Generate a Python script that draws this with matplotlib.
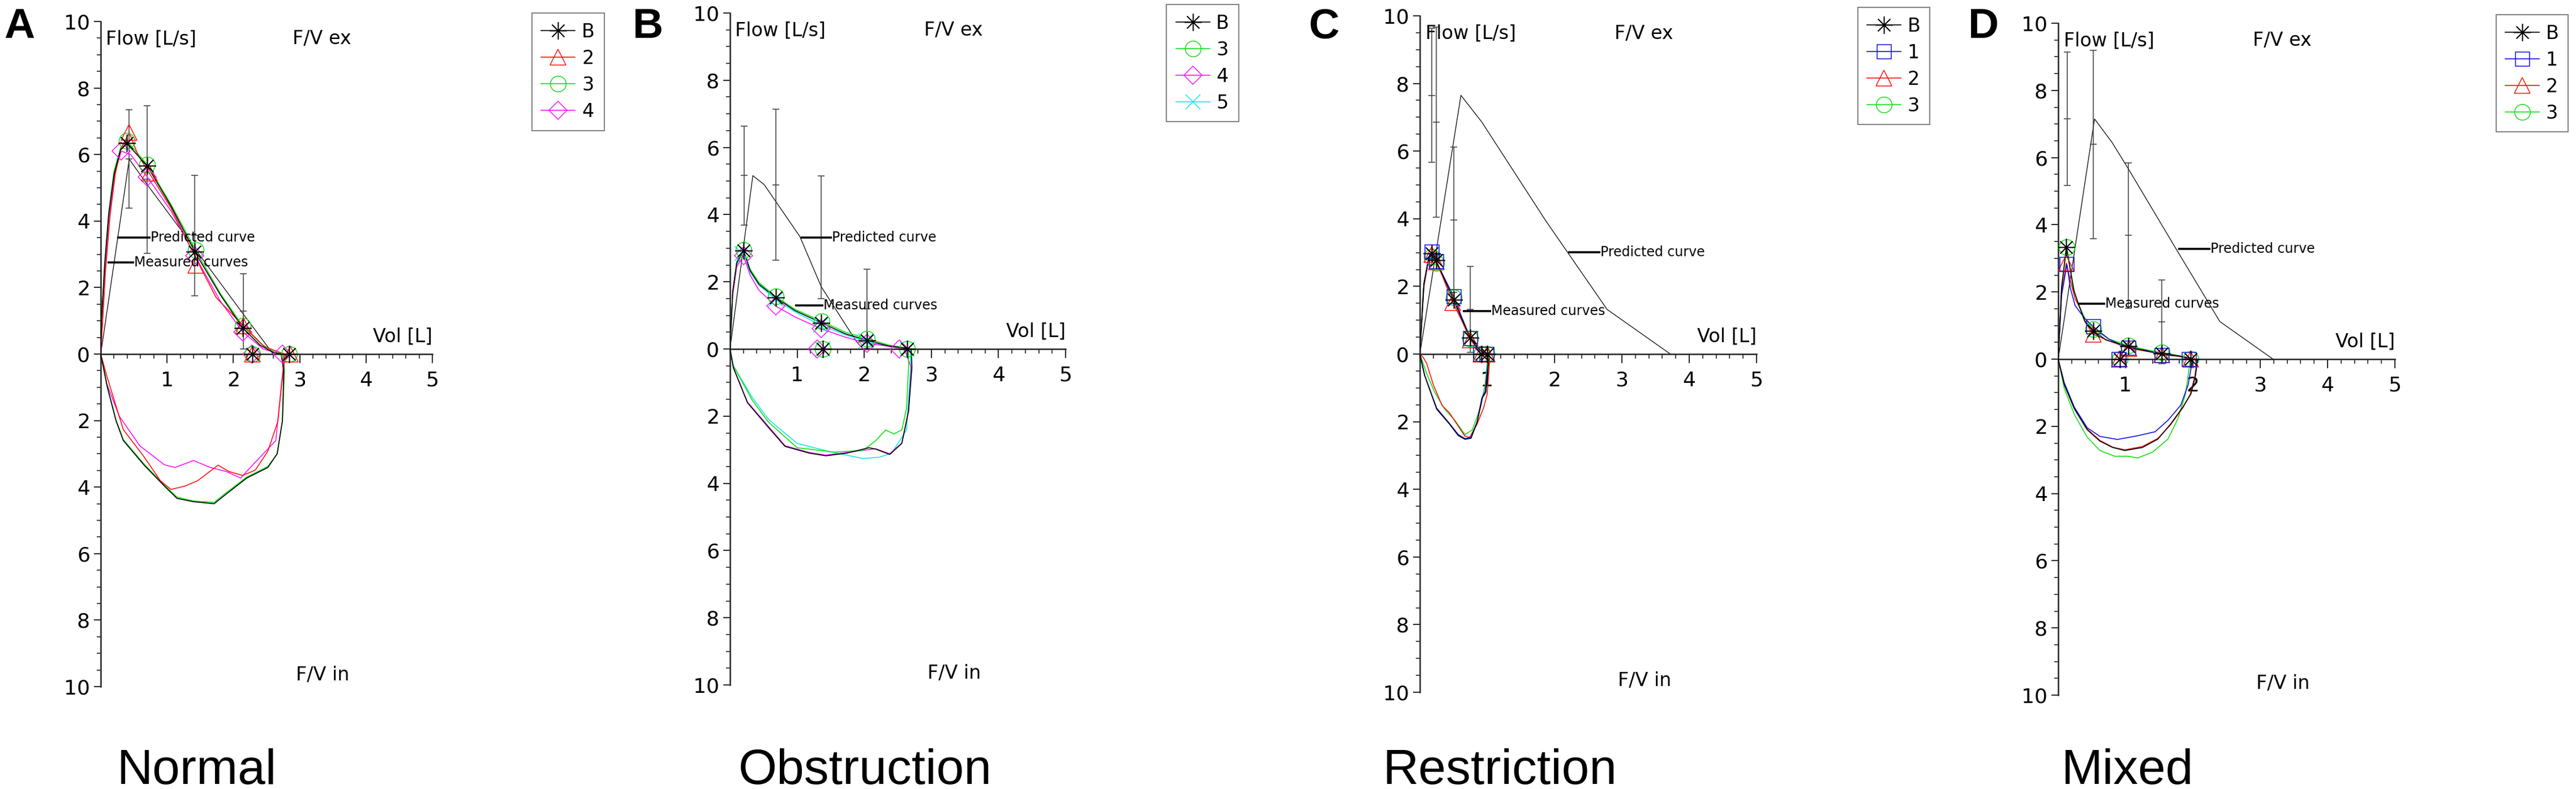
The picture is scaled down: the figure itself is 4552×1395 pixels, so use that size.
import matplotlib
matplotlib.use("Agg")
import matplotlib.pyplot as plt
from matplotlib.lines import Line2D
from matplotlib.ticker import FixedLocator, MultipleLocator, FuncFormatter

# ---- values (volume in L, flow in L/s) ----
# inspiratory flows are stored as magnitudes, drawn below the axis

# A - Normal
normal_series = ["B", "2", "3", "4"]
normal_exp = {
    "B": ([0, 0.01, 0.06, 0.12, 0.20, 0.30, 0.39, 0.70, 1.06, 1.42, 1.81, 2.14, 2.40, 2.60, 2.72],
          [0, 1.0, 2.7, 4.2, 5.4, 6.15, 6.34, 5.66, 4.45, 3.07, 1.76, 0.79, 0.27, 0.05, 0]),
    "2": ([0, 0.02, 0.07, 0.14, 0.22, 0.30, 0.43, 0.56, 0.73, 1.06, 1.29, 1.43, 1.74, 2.15, 2.47, 2.70, 2.78],
          [0, 0.7, 2.45, 4.16, 5.42, 6.16, 6.66, 5.99, 5.45, 4.39, 3.47, 2.9, 1.7, 0.85, 0.22, 0.05, 0]),
    "3": ([0, 0.01, 0.06, 0.12, 0.20, 0.30, 0.39, 0.70, 1.06, 1.43, 1.81, 2.14, 2.42, 2.62, 2.76],
          [0, 1.0, 2.75, 4.25, 5.5, 6.2, 6.42, 5.70, 4.5, 3.13, 1.8, 0.85, 0.3, 0.06, 0]),
    "4": ([0, 0.02, 0.07, 0.14, 0.22, 0.31, 0.45, 0.70, 1.06, 1.42, 1.80, 2.14, 2.45, 2.68, 2.75],
          [0, 0.8, 2.6, 4.3, 5.5, 6.1, 6.0, 5.33, 4.3, 2.96, 1.6, 0.67, 0.15, 0.02, 0]),
}
normal_insp = {
    "B": ([2.72, 2.76, 2.74, 2.66, 2.52, 2.20, 1.86, 1.71, 1.40, 1.15, 0.96, 0.65, 0.34, 0.23, 0.10, 0],
          [0, 0.5, 2.0, 3.0, 3.41, 3.73, 4.26, 4.5, 4.44, 4.34, 3.97, 3.33, 2.6, 2.0, 1.0, 0]),
    "2": ([2.78, 2.76, 2.73, 2.67, 2.52, 2.33, 2.14, 1.93, 1.77, 1.46, 1.27, 1.06, 0.90, 0.65, 0.34, 0.09, 0],
          [0, 0.4, 0.89, 2.03, 2.92, 3.49, 3.65, 3.53, 3.34, 3.81, 3.97, 4.07, 3.81, 3.08, 2.27, 0.65, 0]),
    "3": ([2.76, 2.77, 2.74, 2.66, 2.52, 2.20, 1.86, 1.71, 1.40, 1.15, 0.96, 0.65, 0.34, 0.23, 0.10, 0],
          [0, 0.5, 2.0, 3.0, 3.38, 3.7, 4.22, 4.46, 4.42, 4.3, 3.94, 3.3, 2.57, 1.98, 0.98, 0]),
    "4": ([2.75, 2.75, 2.64, 2.45, 2.20, 2.11, 1.89, 1.65, 1.40, 1.12, 0.96, 0.59, 0.28, 0.09, 0],
          [0, 0.41, 2.6, 3.0, 3.53, 3.73, 3.53, 3.41, 3.2, 3.41, 3.33, 2.76, 1.87, 0.89, 0]),
}
normal_marks = {
    "B": ([0.39, 0.70, 1.42, 2.14, 2.29, 2.84], [6.34, 5.66, 3.07, 0.79, 0, 0]),
    "2": ([0.43, 0.73, 1.43, 2.15, 2.29, 2.86], [6.66, 5.45, 2.67, 0.85, 0, 0]),
    "3": ([0.39, 0.70, 1.43, 2.14, 2.29, 2.84], [6.42, 5.70, 3.13, 0.85, 0, 0]),
    "4": ([0.31, 0.70, 1.42, 2.14, 2.28, 2.74], [6.10, 5.33, 2.96, 0.67, 0, 0]),
}
normal_pred_x = [0, 0.43, 0.71, 1.42, 2.15, 2.60]
normal_pred_y = [0, 5.86, 5.07, 3.17, 1.20, 0]
normal_err_x = [0.43, 0.70, 1.42, 2.15]
normal_err_mid = [5.86, 5.25, 3.57, 1.29]
normal_err_half = [1.48, 2.22, 1.81, 1.13]

# B - Obstruction
obstr_series = ["B", "3", "4", "5"]
obstr_exp = {
    "B": ([0, 0.04, 0.10, 0.20, 0.30, 0.43, 0.68, 0.97, 1.36, 1.72, 2.04, 2.36, 2.60, 2.70],
          [0, 1.7, 2.56, 2.93, 2.33, 1.93, 1.53, 1.14, 0.78, 0.45, 0.26, 0.09, 0.03, 0]),
    "3": ([0, 0.04, 0.10, 0.20, 0.30, 0.43, 0.68, 0.97, 1.37, 1.72, 2.04, 2.36, 2.62, 2.66],
          [0, 1.7, 2.6, 2.95, 2.38, 1.98, 1.56, 1.18, 0.82, 0.5, 0.31, 0.12, 0.03, 0]),
    "4": ([0, 0.04, 0.10, 0.20, 0.30, 0.43, 0.68, 0.97, 1.36, 1.72, 2.04, 2.36, 2.52, 2.60],
          [0, 1.6, 2.45, 2.78, 2.2, 1.75, 1.28, 0.95, 0.6, 0.35, 0.17, 0.08, 0.02, 0]),
    "5": ([0, 0.04, 0.10, 0.18, 0.30, 0.43, 0.68, 0.97, 1.35, 1.72, 2.02, 2.36, 2.62, 2.69],
          [0, 1.65, 2.5, 2.84, 2.3, 1.9, 1.48, 1.1, 0.71, 0.42, 0.23, 0.09, 0.03, 0]),
}
obstr_insp = {
    "B": ([2.70, 2.71, 2.66, 2.56, 2.38, 2.17, 2.07, 1.74, 1.43, 1.18, 0.82, 0.57, 0.26, 0.05, 0],
          [0, 0.56, 1.85, 2.81, 3.14, 2.98, 2.94, 3.1, 3.18, 3.1, 2.9, 2.33, 1.6, 0.56, 0]),
    "3": ([2.66, 2.66, 2.63, 2.56, 2.44, 2.32, 2.17, 1.98, 1.55, 1.00, 0.57, 0.33, 0.05, 0],
          [0, 0.56, 1.77, 2.41, 2.53, 2.41, 2.73, 3.02, 3.07, 2.94, 2.17, 1.52, 0.5, 0]),
    "4": ([2.60, 2.70, 2.66, 2.56, 2.38, 2.17, 1.74, 1.43, 1.18, 0.82, 0.57, 0.26, 0.05, 0],
          [0, 0.56, 1.85, 2.8, 3.12, 2.97, 3.08, 3.16, 3.08, 2.88, 2.3, 1.58, 0.55, 0]),
    "5": ([2.69, 2.69, 2.63, 2.41, 2.23, 1.98, 1.49, 1.00, 0.57, 0.33, 0.05, 0],
          [0, 0.56, 2.41, 3.1, 3.22, 3.26, 3.06, 2.81, 2.09, 1.44, 0.5, 0]),
}
obstr_marks = {
    "B": ([0.20, 0.68, 1.36, 2.04, 1.38, 2.64], [2.93, 1.53, 0.78, 0.26, 0, 0]),
    "3": ([0.20, 0.68, 1.37, 2.04, 1.38, 2.64], [2.95, 1.56, 0.82, 0.31, 0, 0]),
    "4": ([0.20, 0.68, 1.36, 2.04, 1.30, 2.52], [2.78, 1.28, 0.60, 0.17, 0, 0]),
    "5": ([0.18, 0.68, 1.35, 2.02, 1.38, 2.64], [2.84, 1.48, 0.71, 0.23, 0, 0]),
}
obstr_pred_x = [0, 0.34, 0.51, 1.04, 1.36, 1.88, 1.98]
obstr_pred_y = [0, 5.16, 4.89, 3.35, 1.85, 0.23, 0]
obstr_err_x = [0.21, 0.68, 1.36, 2.04]
obstr_err_mid = [5.16, 4.89, 3.32, 1.20]
obstr_err_half = [1.48, 2.24, 1.83, 1.18]

# C - Restriction
restr_series = ["B", "1", "2", "3"]
restr_exp = {
    "B": ([0, 0.06, 0.13, 0.18, 0.24, 0.34, 0.50, 0.62, 0.75, 0.86, 0.97],
          [0, 2.06, 2.8, 2.98, 2.77, 2.33, 1.6, 1.05, 0.48, 0.18, 0]),
    "1": ([0, 0.06, 0.13, 0.18, 0.24, 0.34, 0.50, 0.62, 0.75, 0.86, 0.99],
          [0, 2.1, 2.85, 3.03, 2.74, 2.35, 1.71, 1.1, 0.47, 0.17, 0]),
    "2": ([0, 0.06, 0.13, 0.18, 0.24, 0.34, 0.49, 0.62, 0.75, 0.86, 1.00],
          [0, 2.0, 2.78, 2.95, 2.73, 2.28, 1.52, 1.0, 0.42, 0.15, 0]),
    "3": ([0, 0.05, 0.12, 0.18, 0.24, 0.34, 0.50, 0.62, 0.75, 0.86, 0.99],
          [0, 1.9, 2.7, 2.87, 2.70, 2.3, 1.67, 1.08, 0.45, 0.16, 0]),
}
restr_insp = {
    "B": ([0.97, 1.03, 1.02, 0.98, 0.93, 0.85, 0.76, 0.67, 0.57, 0.44, 0.25, 0.07, 0],
          [0, 0, 0.24, 1.13, 1.29, 2.02, 2.49, 2.52, 2.41, 2.07, 1.63, 0.63, 0]),
    "1": ([0.99, 1.02, 1.01, 0.97, 0.92, 0.85, 0.76, 0.67, 0.57, 0.44, 0.25, 0.07, 0],
          [0, 0, 0.3, 1.1, 1.3, 2.0, 2.46, 2.5, 2.38, 2.05, 1.6, 0.62, 0]),
    "2": ([1.00, 1.04, 1.00, 0.95, 0.85, 0.74, 0.67, 0.55, 0.44, 0.33, 0.20, 0.10, 0.05, 0],
          [0, 0.07, 1.18, 1.57, 2.07, 2.46, 2.43, 2.07, 1.74, 1.52, 0.91, 0.27, 0.1, 0]),
    "3": ([0.99, 1.01, 1.00, 0.97, 0.89, 0.78, 0.67, 0.52, 0.37, 0.22, 0.10, 0],
          [0, 0, 0.24, 0.91, 1.63, 2.24, 2.38, 1.96, 1.63, 1.13, 0.57, 0]),
}
restr_marks = {
    "B": ([0.18, 0.24, 0.50, 0.75, 0.92, 1.00], [2.98, 2.77, 1.60, 0.48, 0, 0]),
    "1": ([0.18, 0.24, 0.50, 0.75, 0.90, 0.99], [3.03, 2.74, 1.71, 0.47, 0, 0]),
    "2": ([0.18, 0.24, 0.49, 0.75, 0.91, 1.00], [2.95, 2.73, 1.52, 0.42, 0, 0]),
    "3": ([0.18, 0.24, 0.50, 0.75, 0.92, 0.99], [2.87, 2.70, 1.67, 0.45, 0, 0]),
}
restr_pred_x = [0, 0.61, 0.92, 1.87, 2.78, 3.72]
restr_pred_y = [0, 7.65, 6.86, 3.94, 1.32, 0]
restr_err_x = [0.18, 0.24, 0.50, 0.75]
restr_err_mid = [7.65, 6.86, 3.97, 1.32]
restr_err_half = [1.98, 2.81, 2.15, 1.27]

# D - Mixed
mixed_series = ["B", "1", "2", "3"]
mixed_exp = {
    "B": ([0, 0.05, 0.12, 0.17, 0.23, 0.30, 0.39, 0.52, 0.71, 1.04, 1.29, 1.54, 1.81, 1.97, 2.00],
          [0, 2.1, 3.33, 2.77, 2.06, 1.64, 1.15, 0.85, 0.57, 0.38, 0.25, 0.17, 0.09, 0.03, 0]),
    "1": ([0, 0.05, 0.13, 0.18, 0.25, 0.33, 0.40, 0.52, 0.75, 1.04, 1.30, 1.54, 1.80, 1.94],
          [0, 1.9, 2.82, 2.12, 1.6, 1.38, 1.2, 0.97, 0.6, 0.33, 0.27, 0.12, 0.1, 0]),
    "2": ([0, 0.05, 0.12, 0.18, 0.25, 0.33, 0.40, 0.52, 0.75, 1.05, 1.30, 1.54, 1.80, 1.97],
          [0, 1.95, 2.86, 2.35, 1.8, 1.5, 1.1, 0.74, 0.55, 0.32, 0.24, 0.14, 0.08, 0]),
    "3": ([0, 0.05, 0.13, 0.18, 0.24, 0.31, 0.40, 0.52, 0.75, 1.04, 1.30, 1.54, 1.80, 1.96],
          [0, 2.2, 3.33, 2.7, 2.0, 1.6, 1.2, 0.9, 0.6, 0.41, 0.28, 0.2, 0.1, 0]),
}
mixed_insp = {
    "B": ([2.00, 2.07, 2.04, 1.97, 1.85, 1.67, 1.48, 1.25, 0.99, 0.81, 0.62, 0.43, 0.24, 0.09, 0],
          [0, 0.03, 0.48, 1.04, 1.43, 1.93, 2.38, 2.63, 2.72, 2.63, 2.44, 2.1, 1.48, 0.76, 0]),
    "1": ([1.94, 1.99, 1.93, 1.82, 1.63, 1.44, 1.18, 0.88, 0.62, 0.43, 0.24, 0.09, 0],
          [0, 0.08, 0.76, 1.37, 1.82, 2.16, 2.28, 2.39, 2.3, 2.04, 1.43, 0.70, 0]),
    "2": ([1.97, 2.06, 2.03, 1.96, 1.85, 1.67, 1.48, 1.25, 0.99, 0.81, 0.62, 0.43, 0.24, 0.09, 0],
          [0, 0.03, 0.5, 1.05, 1.45, 1.95, 2.36, 2.6, 2.7, 2.62, 2.42, 2.08, 1.46, 0.75, 0]),
    "3": ([1.96, 1.96, 1.95, 1.89, 1.78, 1.63, 1.40, 1.18, 1.03, 0.84, 0.62, 0.43, 0.24, 0.09, 0],
          [0, 0, 0.2, 1.04, 1.76, 2.38, 2.77, 2.94, 2.89, 2.89, 2.72, 2.32, 1.65, 0.87, 0]),
}
mixed_marks = {
    "B": ([0.12, 0.52, 0.92, 1.04, 1.54, 1.97], [3.33, 0.85, 0, 0.38, 0.17, 0]),
    "1": ([0.13, 0.52, 0.90, 1.04, 1.54, 1.94], [2.82, 0.97, 0, 0.33, 0.12, 0]),
    "2": ([0.12, 0.52, 0.91, 1.05, 1.54, 1.97], [2.86, 0.74, 0, 0.32, 0.14, 0]),
    "3": ([0.13, 0.52, 0.92, 1.04, 1.54, 1.97], [3.33, 0.90, 0, 0.41, 0.20, 0]),
}
mixed_pred_x = [0, 0.54, 0.80, 1.04, 1.73, 2.40, 3.19]
mixed_pred_y = [0, 7.15, 6.45, 5.67, 3.35, 1.12, 0]
mixed_err_x = [0.135, 0.52, 1.04, 1.54]
mixed_err_mid = [7.15, 6.39, 3.68, 1.11]
mixed_err_half = [1.99, 2.80, 2.16, 1.25]

panel_letters = ["A", "B", "C", "D"]
panel_names = ["Normal", "Obstruction", "Restriction", "Mixed"]

# --- styles ---
STYLE = {
    "B": ("black", (8, 2, 0)),
    "1": ("#1010e0", "s"),
    "2": ("#ff1010", "^"),
    "3": ("#10e010", "o"),
    "4": ("#ff10ff", "D"),
    "5": ("#10e8e8", "x"),
}
MS = {"s": 18, "^": 20, "o": 20, "D": 16, "x": 19, (8, 2, 0): 22}

plt.rcParams['font.family'] = 'DejaVu Sans'
W_PX, H_PX = 4552, 1395
fig = plt.figure(figsize=(W_PX / 100, H_PX / 100), dpi=100)

# axes placement in pixels: left of axis, width of 0..5 L, zero line, px per L/s
layout = [(178, 586, 626, 58.8), (1290, 593, 617, 59.4), (2509, 595, 626, 59.8), (3637, 595, 635, 59.4)]
letter_x = [7, 1118, 2313, 3478]
name_x = [207, 1305, 2444, 3643]
# label pointers: (line x0, line x1, y) for predicted / measured
pred_lbl = [(0.25, 0.75, 3.5), (1.05, 1.52, 3.32), (2.20, 2.68, 3.01), (1.78, 2.26, 3.28)]
meas_lbl = [(0.10, 0.50, 2.76), (0.97, 1.39, 1.29), (0.64, 1.06, 1.27), (0.30, 0.70, 1.65)]

panels = [
    (normal_series, normal_exp, normal_insp, normal_marks, normal_pred_x, normal_pred_y,
     normal_err_x, normal_err_mid, normal_err_half),
    (obstr_series, obstr_exp, obstr_insp, obstr_marks, obstr_pred_x, obstr_pred_y,
     obstr_err_x, obstr_err_mid, obstr_err_half),
    (restr_series, restr_exp, restr_insp, restr_marks, restr_pred_x, restr_pred_y,
     restr_err_x, restr_err_mid, restr_err_half),
    (mixed_series, mixed_exp, mixed_insp, mixed_marks, mixed_pred_x, mixed_pred_y,
     mixed_err_x, mixed_err_mid, mixed_err_half),
]

for p, (series, exp, insp, marks, px_, py_, ex_, em_, eh_) in enumerate(panels):
    left, width, zero, unit = layout[p]
    top = zero - 10 * unit
    ax = fig.add_axes([left / W_PX, 1 - (top + 20 * unit) / H_PX, width / W_PX, 20 * unit / H_PX])
    ax.set_xlim(0, 5)
    ax.set_ylim(-10, 10)
    ax.patch.set_alpha(0)

    # predicted curve with error bars (mean +- range)
    ax.plot(px_, py_, color='black', lw=0.9, zorder=2)
    ax.errorbar(ex_, em_, yerr=eh_, fmt='none', ecolor='#3a3a3a', elinewidth=1.1,
                capsize=4, capthick=1.1, zorder=2)
    ax.plot(ex_, em_, ls='none', marker='_', ms=8, mew=1.1, color='#3a3a3a', zorder=2)

    # measured loops, baseline curve drawn last (on top)
    for k, name in enumerate(reversed(series)):
        col, mk = STYLE[name]
        x_e, y_e = exp[name]
        x_i, y_i = insp[name]
        ax.plot(list(x_e) + list(x_i), list(y_e) + [-v for v in y_i], color=col, lw=1.2, zorder=3 + k)
        mx, my = marks[name]
        ax.plot(mx, my, ls='none', marker=mk, ms=MS[mk], mfc='none', mec=col, mew=1.1, zorder=10 + k)

    # pointer labels
    for (x0, x1, yy), txt in [(pred_lbl[p], "Predicted curve"), (meas_lbl[p], "Measured curves")]:
        ax.plot([x0, x1], [yy, yy], color='black', lw=2.6, zorder=20, solid_capstyle='butt')
        ax.text(x1, yy, txt, fontsize=17, ha='left', va='center', zorder=21)

    ax.text(0.08, 9.32, "Flow [L/s]", fontsize=24, va='baseline')
    ax.text(2.89, 9.32, "F/V ex", fontsize=24, va='baseline')
    ax.text(5.0, 0.36, "Vol [L]", fontsize=24, va='baseline', ha='right')
    ax.text(2.94, -9.81, "F/V in", fontsize=24, va='baseline')

    # axes through the origin
    for s in ['top', 'right']:
        ax.spines[s].set_visible(False)
    ax.spines['bottom'].set_position(('data', 0))
    ax.spines['bottom'].set_linewidth(1.8)
    ax.spines['left'].set_linewidth(1.8)
    ax.spines['bottom'].set_color('#222222')
    ax.spines['left'].set_color('#222222')

    ax.yaxis.set_major_locator(FixedLocator(list(range(-10, 11, 2))))
    ax.yaxis.set_major_formatter(FuncFormatter(lambda v, pos: f"{abs(int(round(v)))}"))
    ax.yaxis.set_minor_locator(MultipleLocator(0.5))
    ax.xaxis.set_major_locator(FixedLocator([1, 2, 3, 4, 5]))
    ax.xaxis.set_major_formatter(FuncFormatter(lambda v, pos: f"{int(round(v))}"))
    ax.xaxis.set_minor_locator(MultipleLocator(0.2))
    ax.tick_params(axis='y', which='major', direction='out', length=8.6, width=1.4, pad=5, labelsize=26, colors='#222222', labelcolor='black')
    ax.tick_params(axis='y', which='minor', direction='out', length=5, width=1.2, colors='#222222')
    ax.tick_params(axis='x', which='major', direction='out', length=11.5, width=1.4, pad=10, labelsize=26, colors='#222222', labelcolor='black')
    ax.tick_params(axis='x', which='minor', direction='out', length=5.8, width=1.2, colors='#222222')

    handles = []
    for name in series:
        col, mk = STYLE[name]
        handles.append(Line2D([], [], color=col, lw=1.2, marker=mk, ms=MS[mk], mfc='none', mec=col, mew=1.1))
    leg = ax.legend(handles, series, loc='upper left', bbox_to_anchor=(6.5, 10.25),
                    bbox_transform=ax.transData, fontsize=24, frameon=True, fancybox=False,
                    edgecolor='#7f7f7f', framealpha=1, borderpad=0.5, labelspacing=0.42,
                    handlelength=1.8, handletextpad=0.35, borderaxespad=0)
    leg.get_frame().set_linewidth(1.4)

    fig.text(letter_x[p] / W_PX, 1 - 67 / H_PX, panel_letters[p], fontsize=54, fontweight='bold',
             family='Liberation Sans', va='baseline', ha='left')
    fig.text(name_x[p] / W_PX, 1 - 1386 / H_PX, panel_names[p], fontsize=63,
             family='Liberation Sans', va='baseline', ha='left')

fig.savefig("out.png", dpi=100)
